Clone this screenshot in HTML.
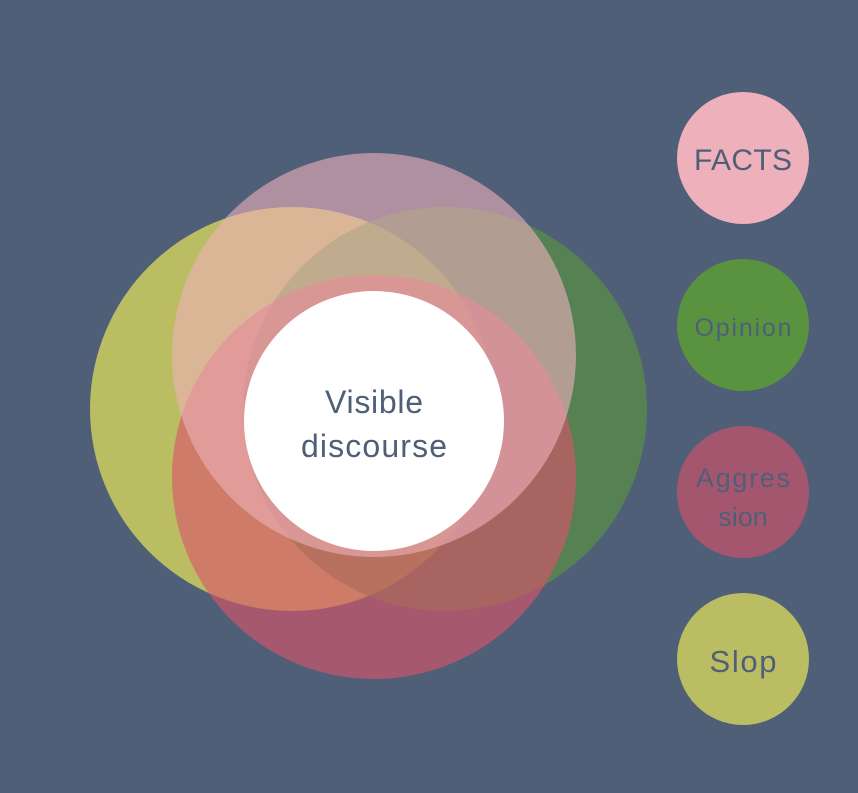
<!DOCTYPE html>
<html><head><style>
html,body{margin:0;padding:0;background:#4f5f78;}
body{width:858px;height:788px;overflow:hidden;}
</style></head><body>
<svg width="858" height="788" viewBox="0 0 858 788" xmlns="http://www.w3.org/2000/svg" font-family="Liberation Sans, sans-serif">
<rect width="858" height="788" fill="#4f5f78"/>
<circle cx="292" cy="409" r="202" fill="#bbbd62"/>
<circle cx="445" cy="409" r="202" fill="#5a933f" fill-opacity="0.65"/>
<circle cx="374" cy="477" r="202" fill="#d9546a" fill-opacity="0.63"/>
<circle cx="374" cy="355" r="202" fill="#eeb0bb" fill-opacity="0.6"/>
<circle cx="374" cy="421" r="130" fill="#ffffff"/>
<text x="374" y="413" text-anchor="middle" font-size="32" fill="#4f5f78" textLength="98">Visible</text>
<text x="374" y="457" text-anchor="middle" font-size="32" fill="#4f5f78" textLength="146">discourse</text>
<circle cx="743" cy="158" r="66" fill="#eeb0bb"/>
<text x="743" y="170" text-anchor="middle" font-size="30" fill="#4f5f78" textLength="98">FACTS</text>
<circle cx="743" cy="325" r="66" fill="#5a933f"/>
<text x="743" y="336" text-anchor="middle" font-size="25" fill="#4f5f78" textLength="97">Opinion</text>
<circle cx="743" cy="492" r="66" fill="#a5566f"/>
<text x="743" y="487" text-anchor="middle" font-size="27" fill="#4f5f78" textLength="94">Aggres</text>
<text x="743" y="526" text-anchor="middle" font-size="27" fill="#4f5f78">sion</text>
<circle cx="743" cy="659" r="66" fill="#bbbd62"/>
<text x="743" y="672" text-anchor="middle" font-size="31" fill="#4f5f78" textLength="67">Slop</text>
</svg>
</body></html>
